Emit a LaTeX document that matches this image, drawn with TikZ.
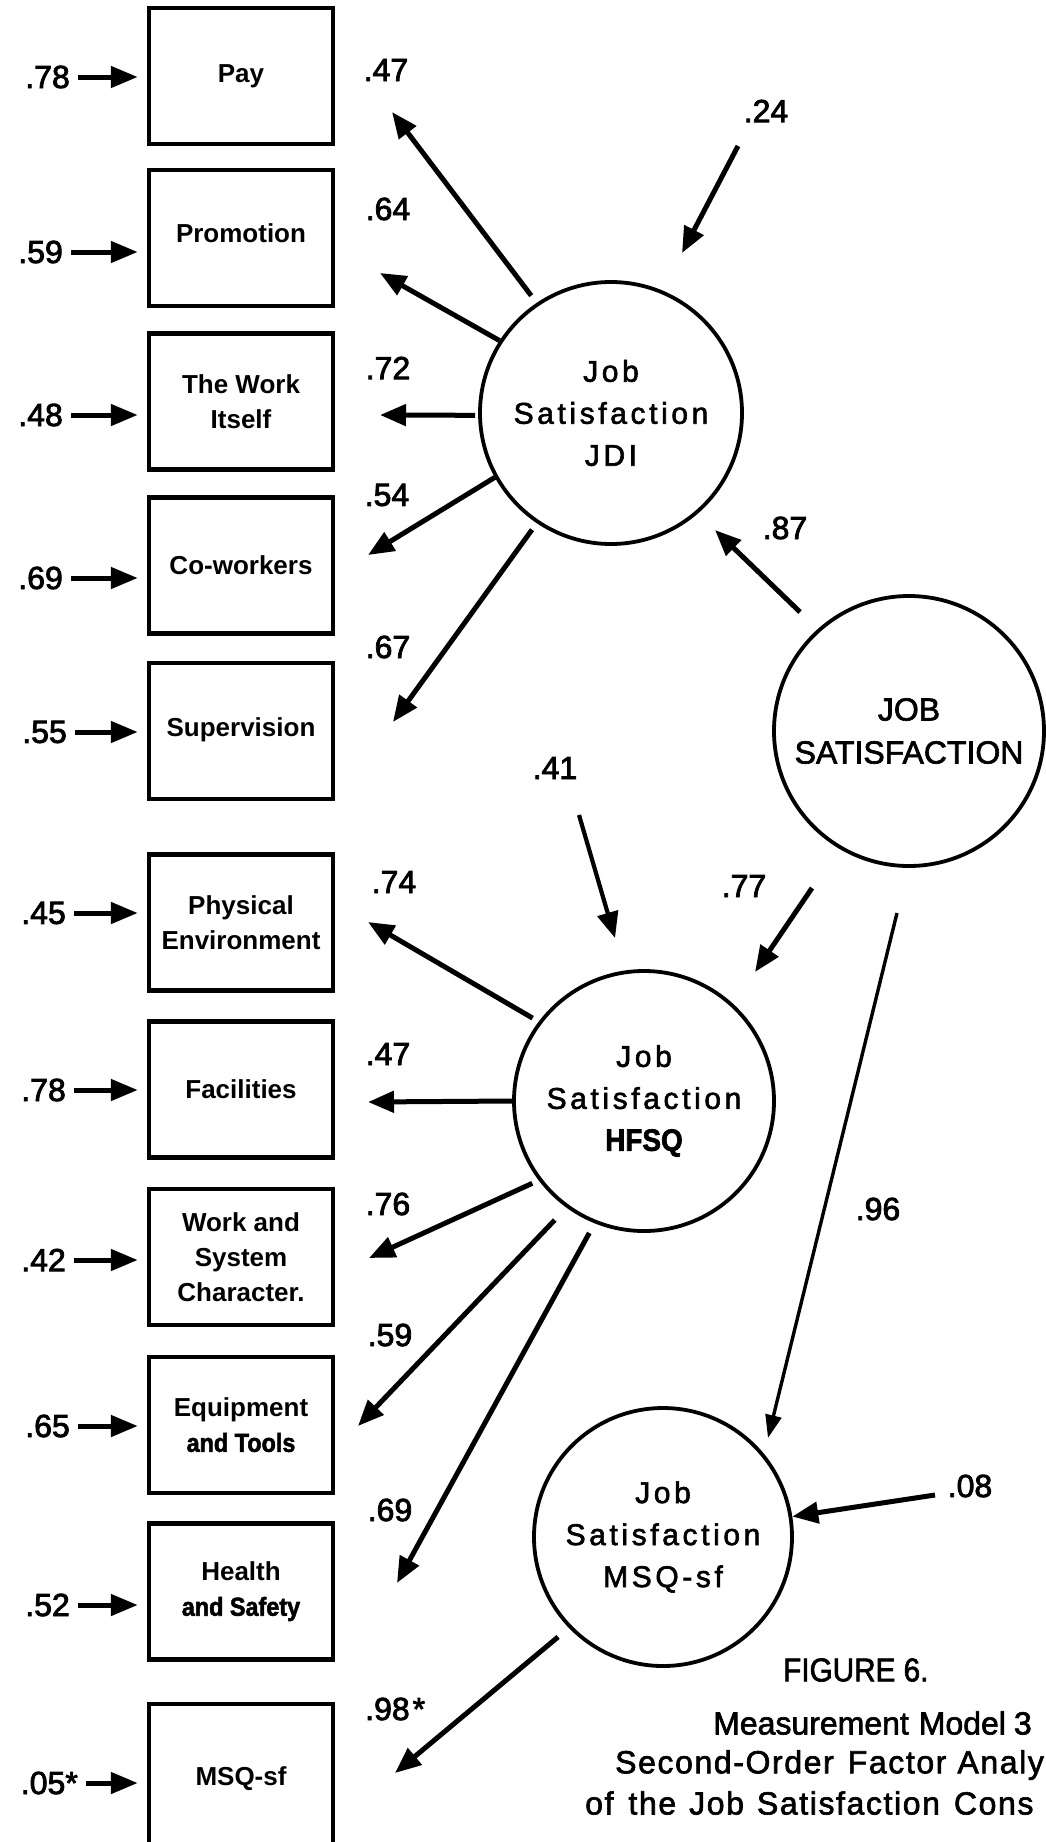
\documentclass[tikz,border=0pt]{standalone}
\usepackage{fontspec}
\setmainfont{Liberation Sans}
\newfontfamily\numberfont[FakeBold=2.5]{Liberation Sans}
\newfontfamily\spacedfont[LetterSpace=12,FakeBold=2]{Liberation Sans}
\newfontfamily\captfont[LetterSpace=5,FakeBold=2]{Liberation Sans}
\newfontfamily\plaincapt[FakeBold=2]{Liberation Sans}
\newfontfamily\narrowfont[FakeStretch=0.9,FakeBold=2]{Liberation Sans}
\usetikzlibrary{arrows.meta}

\newcommand{\boxfont}{\fontsize{26}{35}\selectfont\bfseries}
\newcommand{\circfont}{\spacedfont\fontsize{30}{42}\selectfont}
\newcommand{\numfont}{\numberfont\fontsize{32}{38}\selectfont}

\begin{document}
\begin{tikzpicture}[x=1pt,y=-1pt,
  box/.style={draw, line width=4.5pt, minimum width=184pt, minimum height=136pt,
    inner sep=0pt, align=center, font=\boxfont},
  latent/.style={draw, circle, line width=3.8pt, inner sep=0pt, align=center, font=\circfont},
  num/.style={inner sep=0pt, font=\numfont},
  err/.style={-{Triangle[length=27pt,width=21pt]}, line width=5pt, shorten <=8pt, shorten >=9pt},
  load/.style={-{Triangle[length=26pt,width=21pt]}, line width=5pt},
  thin/.style={-{Triangle[length=23pt,width=16pt]}, line width=3.4pt},
  capt/.style={inner sep=0pt, anchor=west, font=\plaincapt\fontsize{32}{38}\selectfont}
]
\useasboundingbox (0,0) rectangle (1046,1842);
\clip (0,0) rectangle (1046,1842);

% observed indicators
\node[box] (pay)   at (241,76)     {\raisebox{5pt}{Pay}};
\node[box] (prom)  at (241,238)    {\raisebox{10pt}{Promotion}};
\node[box] (work)  at (241,401.5)  {The Work\\Itself};
\node[box] (cowk)  at (241,565.5)  {Co-workers};
\node[box] (supv)  at (241,731)    {\raisebox{8pt}{Supervision}};
\node[box] (phys)  at (241,922.5)  {Physical\\Environment};
\node[box] (facil) at (241,1089.5) {Facilities};
\node[box] (wsys)  at (241,1257)   {Work and\\System\\Character.};
\node[box] (equip) at (241,1425)   {Equipment\\{\narrowfont\bfseries and Tools}};
\node[box] (hlth)  at (241,1591.5) {Health\\{\narrowfont\bfseries and Safety}};
\node[box, minimum height=150pt] (msqb) at (241,1779) {\raisebox{6pt}{MSQ-sf}};

% error terms of the indicators
\node[num, anchor=east] (e1)  at (70,77)   {.78};
\node[num, anchor=east] (e2)  at (63,252)  {.59};
\node[num, anchor=east] (e3)  at (63,415)  {.48};
\node[num, anchor=east] (e4)  at (63,578)  {.69};
\node[num, anchor=east] (e5)  at (67,732)  {.55};
\node[num, anchor=east] (e6)  at (66,913)  {.45};
\node[num, anchor=east] (e7)  at (66,1090) {.78};
\node[num, anchor=east] (e8)  at (66,1260) {.42};
\node[num, anchor=east] (e9)  at (70,1426) {.65};
\node[num, anchor=east] (e10) at (70,1605) {.52};
\node[num, anchor=east] (e11) at (78,1783) {.05*};

\draw[err] (e1.east)  -- (e1.east -| pay.west);
\draw[err] (e2.east)  -- (e2.east -| prom.west);
\draw[err] (e3.east)  -- (e3.east -| work.west);
\draw[err] (e4.east)  -- (e4.east -| cowk.west);
\draw[err] (e5.east)  -- (e5.east -| supv.west);
\draw[err] (e6.east)  -- (e6.east -| phys.west);
\draw[err] (e7.east)  -- (e7.east -| facil.west);
\draw[err] (e8.east)  -- (e8.east -| wsys.west);
\draw[err] (e9.east)  -- (e9.east -| equip.west);
\draw[err] (e10.east) -- (e10.east -| hlth.west);
\draw[err] (e11.east) -- (e11.east -| msqb.west);

% latent factors
\node[latent, minimum size=262pt] (jdi)  at (611,413)  {Job\\Satisfaction\\JDI};
\node[latent, minimum size=260pt] (hfsq) at (644,1101) {Job\\Satisfaction\\{\narrowfont\bfseries\fontsize{31}{42}\selectfont HFSQ}};
\node[latent, minimum size=258pt] (msq)  at (663,1537) {Job\\Satisfaction\\MSQ-sf};
\node[latent, minimum size=270pt, font=\plaincapt\fontsize{32}{43}\selectfont] (js) at (909,731) {JOB\\SATISFACTION};

% loadings on the JDI factor
\coordinate (t47) at (392,112);
\coordinate (t64) at (380,273);
\coordinate (t72) at (380,415);
\coordinate (t54) at (368,555);
\coordinate (t67) at (393,722);
\draw[load, shorten <=9pt] (jdi.124) -- (t47);
\draw[load] (jdi.147) -- (t64);
\draw[load, shorten <=3pt] (jdi.181) -- (t72);
\draw[load] (jdi.209) -- (t54);
\draw[load, shorten <=8pt] (jdi.236) -- (t67);
\node[num] (l47) at (386,70)  {.47};
\node[num] (l64) at (388,209) {.64};
\node[num] (l72) at (388,368) {.72};
\node[num] (l54) at (387,495) {.54};
\node[num] (l67) at (388,647) {.67};

% loadings on the HFSQ factor
\coordinate (t74)  at (368,922);
\coordinate (t47b) at (368,1102);
\coordinate (t76)  at (369,1258);
\coordinate (t59)  at (358,1426);
\coordinate (t69)  at (397,1583);
\draw[load, shorten <=7pt] (hfsq.143) -- (t74);
\draw[load] (hfsq.180) -- (t47b);
\draw[load, shorten <=7pt] (hfsq.217) -- (t76);
\draw[load, shorten <=17pt] (hfsq.234) -- (t59);
\draw[load, shorten <=11pt] (hfsq.248) -- (t69);
\node[num] (l74)  at (394,882)  {.74};
\node[num] (l47b) at (388,1054) {.47};
\node[num] (l76)  at (388,1204) {.76};
\node[num] (l59)  at (390,1335) {.59};
\node[num] (l69)  at (390,1510) {.69};

% loading on the MSQ-sf factor
\coordinate (t98) at (395,1773);
\draw[load, shorten <=14pt] (msq.224) -- (t98);
\node[num, anchor=west] (l98) at (365,1709) {.98\hspace{3pt}*};

% disturbances of the first-order factors
\coordinate (s24) at (738,146);
\coordinate (t24) at (682,253);
\draw[load] (s24) -- (t24);
\node[num] (d24) at (766,111) {.24};

\coordinate (s41) at (579,815);
\coordinate (t41) at (615,938);
\draw[load, line width=4.2pt] (s41) -- (t41);
\node[num] (d41) at (555,768) {.41};

\coordinate (s08) at (935,1495);
\draw[load] (s08) -- (msq.9);
\node[num] (d08) at (970,1486) {.08};

% second-order paths
\coordinate (s87) at (800,612);
\coordinate (t87) at (715,530);
\draw[load] (s87) -- (t87);
\node[num] (p87) at (785,528) {.87};

\coordinate (s77) at (812,888);
\coordinate (t77) at (755,972);
\draw[load] (s77) -- (t77);
\node[num] (p77) at (744,886) {.77};

\coordinate (s96) at (897,913);
\coordinate (t96) at (768,1438);
\draw[thin] (s96) -- (t96);
\node[num] (p96) at (878,1209) {.96};

% caption
\node[capt, font=\narrowfont\fontsize{33}{38}\selectfont] (cap1) at (783,1670) {FIGURE 6.};
\node[capt] (cap2) at (713,1723) {Measurement\hspace{10pt}Model\hspace{8pt}3};
\node[capt, font=\captfont\fontsize{32}{38}\selectfont] (cap3) at (615,1765) {Second-Order\hspace{14pt}Factor\hspace{11pt}Analy};
\node[capt, font=\captfont\fontsize{32}{38}\selectfont] (cap4) at (585,1803) {of\hspace{15pt}the\hspace{13pt}Job\hspace{13pt}Satisfaction\hspace{14pt}Cons};
\end{tikzpicture}
\end{document}
